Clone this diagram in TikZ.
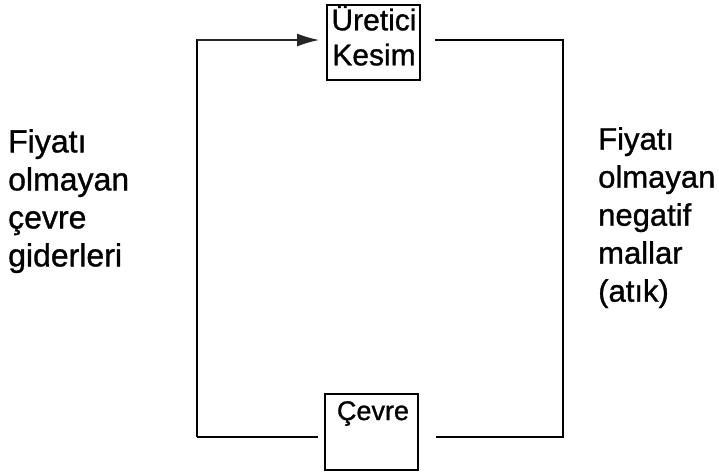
\documentclass[tikz,border=0pt]{standalone}
\usepackage{fontspec}
\setmainfont{Liberation Sans}[UprightFeatures={FakeBold=1}]
\usetikzlibrary{arrows.meta}
\begin{document}
\begin{tikzpicture}[x=1pt,y=-1pt,
  boxnode/.style={draw,line width=1.4pt,minimum width=93pt,minimum height=75pt,inner sep=0pt},
  intext/.style={font=\fontsize{30}{35}\selectfont,align=center,inner sep=0pt},
  sidetext/.style={font=\fontsize{32}{38}\selectfont,align=left,inner sep=0pt,anchor=north west},
  conn/.style={line width=1.2pt},
  tip/.style={-{Latex[length=22pt,width=13pt]},color=black!85}]
\useasboundingbox (0,0) rectangle (719,472);
% boxes
\node[boxnode] (uretici) at (373.5,42.5) {};
\node[intext,anchor=north] (uretxt) at (374,5) {Üretici\\Kesim};
\node[boxnode,minimum height=76pt] (cevre) at (371.5,432) {};
\node[intext,font=\fontsize{27}{32}\selectfont,anchor=north] (cevtxt) at (373,401) {Çevre};
% corner coordinates
\coordinate (tl) at (197,40);
\coordinate (bl) at (197,437);
\coordinate (tr) at (563,40);
\coordinate (br) at (563,437);
\coordinate (arrend) at (319,40);
\coordinate (rstart) at (435,40);
\coordinate (blend) at (318,437);
\coordinate (brstart) at (436,437);
% connectors
\draw[conn] (bl) -- (tl) -- (300,40);
\draw[conn,tip] (tl) -- (arrend);
\draw[conn] (blend) -- (bl);
\draw[conn] (rstart) -- (tr) -- (br) -- (brstart);
% side texts
\node[sidetext] (lefttxt) at (8,129) {Fiyatı\\olmayan\\çevre\\giderleri};
\node[sidetext,font=\fontsize{31}{38}\selectfont] (righttxt) at (598,127) {Fiyatı\\olmayan\\negatif\\mallar\\(atık)};
\end{tikzpicture}
\end{document}
